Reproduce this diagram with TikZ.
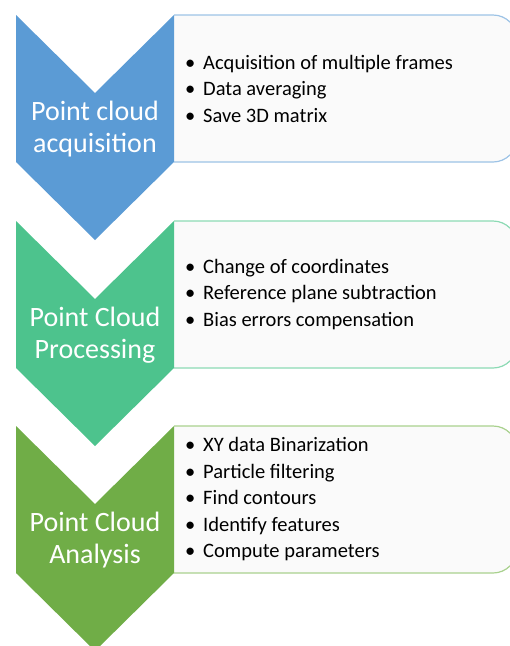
\documentclass[tikz,border=0pt]{standalone}
\usepackage{fontspec}
\setmainfont{Carlito}
\usepackage{xcolor}
\usepackage{tikz}
\usetikzlibrary{
	calc,
	positioning
}
\definecolor{StageBlue}{RGB}{91,155,213}
\definecolor{StageTeal}{RGB}{77,195,141}
\definecolor{StageGreen}{RGB}{112,173,71}
\definecolor{EdgeBlue}{RGB}{157,195,230}
\definecolor{EdgeTeal}{RGB}{140,218,180}
\definecolor{EdgeGreen}{RGB}{169,209,142}
\definecolor{BoxFill}{RGB}{250,250,250}

\begin{document}
\begin{tikzpicture}[x=1pt, y=-1pt,
		chevron/.style={fill=#1, draw=none},
		listbox/.style={fill=BoxFill, draw=#1, line width=1.2pt, rounded corners=24pt},
		stagelabel/.style={text=white, align=center, inner sep=0pt, font=\fontsize{28}{32}\selectfont},
		steplist/.style={text=black, align=left, anchor=west, inner sep=0pt, font=\fontsize{20.5}{26.5}\selectfont}
	]
		\useasboundingbox (0,0) rectangle (510,646);
		\clip (0,0) rectangle (510,646);
		\newcommand{\bul}{\makebox[18pt][l]{\textbullet}}
		
		% stage 1: acquisition
		\filldraw[listbox=EdgeBlue] (174,15) -- (517,15) -- (517,162) -- (174,162);
		\fill[chevron=StageBlue] (16,15) -- (95,93) -- (174,15) -- (174,162) -- (95,240) -- (16,162) -- cycle;
		\node[stagelabel] (lab1) at (95,129) {Point cloud\\acquisition};
		\node[steplist] (list1) at (185,88.5) {\bul Acquisition of multiple frames\\\bul Data averaging\\\bul Save 3D matrix};
		
		% stage 2: processing
		\filldraw[listbox=EdgeTeal] (174,221) -- (517,221) -- (517,368) -- (174,368);
		\fill[chevron=StageTeal] (16,221) -- (95,299) -- (174,221) -- (174,368) -- (95,446) -- (16,368) -- cycle;
		\node[stagelabel] (lab2) at (95,335) {Point Cloud\\Processing};
		\node[steplist] (list2) at (185,294.5) {\bul Change of coordinates\\\bul Reference plane subtraction\\\bul Bias errors compensation};
		
		% stage 3: analysis
		\filldraw[listbox=EdgeGreen] (174,426) -- (517,426) -- (517,573) -- (174,573);
		\fill[chevron=StageGreen] (16,426) -- (95,504) -- (174,426) -- (174,573) -- (95,651) -- (16,573) -- cycle;
		\node[stagelabel] (lab3) at (95,540) {Point Cloud\\Analysis};
		\node[steplist] (list3) at (185,499.5) {\bul XY data Binarization\\\bul Particle filtering\\\bul Find contours\\\bul Identify features\\\bul Compute parameters};
	\end{tikzpicture}
\end{document}
